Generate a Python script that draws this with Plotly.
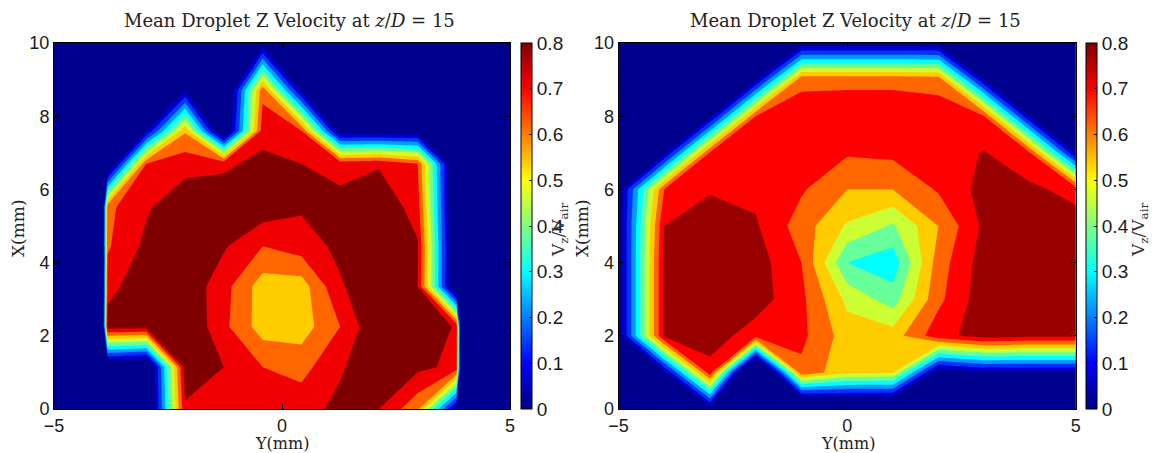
import plotly.graph_objects as go

# ---------------- data ----------------
# Left panel: measurement grid  (Y = columns, X = rows), Vz/Vair values
left_y_mm = [-3.825, -2.975, -2.125, -1.275, -0.425, 0.425, 1.275, 2.125, 2.975, 3.825]
left_x_mm = [0.0, 1.15, 2.25, 3.35, 4.45, 5.5, 6.7, 7.6, 8.7, 9.9]
left_vz = [
    [0.00, -0.13, 0.79, 0.74, 0.73, 0.77, 0.82, 0.80, 0.66, 0.03],
    [-0.08, -0.13, 0.84, 0.80, 0.72, 0.69, 0.79, 0.86, 0.82, 0.78],
    [0.85, 0.84, 0.88, 0.74, 0.60, 0.60, 0.72, 0.88, 0.87, 0.79],
    [0.76, 0.88, 0.86, 0.75, 0.60, 0.60, 0.79, 0.87, 0.80, -0.10],
    [0.71, 0.82, 0.90, 0.81, 0.72, 0.76, 0.82, 0.88, 0.81, -0.10],
    [0.70, 0.79, 0.86, 0.87, 0.85, 0.81, 0.83, 0.87, 0.76, -0.10],
    [-0.10, 0.72, 0.77, 0.78, 0.83, 0.80, 0.77, 0.79, 0.72, -0.10],
    [0.00, 0.07, 0.63, -0.10, 0.76, 0.72, 0.00, 0.00, 0.00, 0.00],
    [0.00, 0.00, 0.07, -0.14, 0.70, 0.06, 0.00, 0.00, 0.00, 0.00],
    [0.00, 0.00, 0.00, 0.00, 0.07, 0.00, 0.00, 0.00, 0.00, 0.00],
]
left_levels = dict(start=0.08, end=0.80, size=0.08)
# jet-fraction used to paint each band (below first level, then above each level)
left_band_frac = [0.0, 0.08, 0.18, 0.28, 0.38, 0.48, 0.58, 0.675, 0.775, 0.89, 1.0]

# Right panel
right_y_mm = [-5, -4, -3, -2, -1, 0, 1, 2, 3, 4, 5]
right_x_mm = [0, 1, 2, 3, 4, 5, 6, 7, 8, 9, 10]
right_vz = [
    [0, 0, 0, 0, -0.26, -0.20, -0.19, 0, 0, 0, 0],
    [0, 0.03, 0.75, -0.40, 0.68, 0.56, 0.55, -0.02, 0.04, 0.04, 0.04],
    [0, 0.80, 0.82, 0.74, 0.72, 0.58, 0.58, 0.75, 0.82, 0.80, 0.80],
    [0, 0.80, 0.85, 0.82, 0.72, 0.52, 0.42, 0.68, 0.83, 0.86, 0.84],
    [0, 0.80, 0.86, 0.82, 0.70, 0.38, 0.33, 0.66, 0.82, 0.87, 0.84],
    [0, 0.78, 0.84, 0.79, 0.66, 0.53, 0.45, 0.62, 0.80, 0.85, 0.82],
    [0, 0.70, 0.77, 0.76, 0.71, 0.62, 0.62, 0.71, 0.81, 0.80, 0.75],
    [0, 0.03, 0.71, 0.74, 0.74, 0.71, 0.72, 0.74, 0.785, 0.70, 0.05],
    [0, 0, 0.03, 0.70, 0.74, 0.75, 0.75, 0.74, 0.70, 0.05, 0],
    [0, 0, 0, 0.04, 0.68, 0.68, 0.68, 0.67, 0.05, 0, 0],
    [0, 0, 0, 0, 0, 0, 0, 0, 0, 0, 0],
]
right_levels = dict(start=0.06, end=0.78, size=0.08)
right_band_frac = [0.0, 0.075, 0.175, 0.275, 0.375, 0.475, 0.575, 0.675, 0.775, 0.875, 0.975]

cbar_ticks = [0, 0.1, 0.2, 0.3, 0.4, 0.5, 0.6, 0.7, 0.8]
cbar_labels = ["0", "0.1", "0.2", "0.3", "0.4", "0.5", "0.6", "0.7", "0.8"]
CMAX = 0.8
title_text = "Mean Droplet Z Velocity at <i>z</i>/<i>D</i> = 15"

# ---------------- helpers ----------------
def jet(f):
    f = min(max(f, 0.0), 1.0)
    r = min(max(1.5 - abs(4 * f - 3), 0), 1)
    g = min(max(1.5 - abs(4 * f - 2), 0), 1)
    b = min(max(1.5 - abs(4 * f - 1), 0), 1)
    if f == 0:
        b = 0.5625
    return "rgb(%d,%d,%d)" % (round(r * 255), round(g * 255), round(b * 255))


def band_scale(fracs):
    n = len(fracs) - 1
    return [[k / n, jet(fr)] for k, fr in enumerate(fracs)]


jet_cont = [[i / 32, jet(i / 32)] for i in range(33)]

# pad left grid with zero border (outside measured region)
lx = left_x_mm + [10.0]
ly = [-5.0, -3.925] + left_y_mm + [3.925, 5.0]
lz = [[0, 0] + row + [0, 0] for row in left_vz] + [[0] * len(ly)]

W, H = 1155, 453
def px(x):
    return x / W
def py(y):
    return 1 - y / H

top, bot = 43, 409
ydom = [py(bot), py(top)]
xdom1 = [px(54), px(510)]
xdom2 = [px(618.6), px(1075.7)]

fig = go.Figure()

fig.add_trace(go.Contour(
    x=ly, y=lx, z=lz, xaxis="x", yaxis="y",
    autocontour=False,
    contours=dict(start=left_levels["start"], end=left_levels["end"],
                  size=left_levels["size"], coloring="fill", showlines=False),
    line=dict(width=0, smoothing=0),
    colorscale=band_scale(left_band_frac), showscale=False, hoverinfo="skip"))

fig.add_trace(go.Contour(
    x=right_y_mm, y=right_x_mm, z=right_vz, xaxis="x2", yaxis="y2",
    autocontour=False,
    contours=dict(start=right_levels["start"], end=right_levels["end"],
                  size=right_levels["size"], coloring="fill", showlines=False),
    line=dict(width=0, smoothing=0),
    colorscale=band_scale(right_band_frac), showscale=False, hoverinfo="skip"))

def cbar(xpos):
    return dict(x=xpos, xanchor="left", xpad=0, ypad=0,
                y=(ydom[0] + ydom[1]) / 2, yanchor="middle",
                len=ydom[1] - ydom[0], lenmode="fraction",
                thickness=11, thicknessmode="pixels",
                outlinecolor="black", outlinewidth=1,
                tickvals=cbar_ticks, ticktext=cbar_labels,
                ticks="inside", ticklen=3, tickcolor="black",
                tickfont=dict(family="Liberation Sans, Arial", size=19, color="#1a1a1a"))

for xa, ya, xpos in (("x", "y", px(520.7)), ("x2", "y2", px(1086))):
    fig.add_trace(go.Scatter(
        x=[-20, -20], y=[-20, -20], xaxis=xa, yaxis=ya, mode="markers",
        marker=dict(color=[0, CMAX], cmin=0, cmax=CMAX, colorscale=jet_cont,
                    opacity=0, showscale=True, colorbar=cbar(xpos)),
        hoverinfo="skip", showlegend=False))

axcommon = dict(showline=True, linecolor="black", linewidth=1, mirror="allticks",
                ticks="inside", ticklen=5, tickcolor="black", showgrid=False,
                zeroline=False,
                tickfont=dict(family="Liberation Sans, Arial", size=18, color="#1a1a1a"))

fig.update_layout(
    width=W, height=H, margin=dict(l=0, r=0, t=0, b=0, autoexpand=False),
    paper_bgcolor="white", plot_bgcolor=jet(0), showlegend=False,
    xaxis=dict(domain=xdom1, range=[-5, 5], tickvals=[-5, 0, 5], anchor="y", **axcommon),
    yaxis=dict(domain=ydom, range=[0, 10], tickvals=[0, 2, 4, 6, 8, 10], anchor="x", **axcommon),
    xaxis2=dict(domain=xdom2, range=[-5, 5], tickvals=[-5, 0, 5], anchor="y2", **axcommon),
    yaxis2=dict(domain=ydom, range=[0, 10], tickvals=[0, 2, 4, 6, 8, 10], anchor="x2", **axcommon),
)

serif = "DejaVu Serif, Liberation Serif, serif"
ann = []
for cx in (289, 855):
    ann.append(dict(x=px(cx), y=py(20), text=title_text, showarrow=False,
                    xref="paper", yref="paper", xanchor="center", yanchor="middle",
                    font=dict(family=serif, size=18, color="#222")))
for cx in (282, 848):
    ann.append(dict(x=px(cx), y=py(443), text="Y(mm)", showarrow=False,
                    xref="paper", yref="paper", xanchor="center", yanchor="middle",
                    font=dict(family=serif, size=16, color="#222")))
for cx in (18, 582):
    ann.append(dict(x=px(cx), y=py(228), text="X(mm)", showarrow=False, textangle=-90,
                    xref="paper", yref="paper", xanchor="center", yanchor="middle",
                    font=dict(family=serif, size=17, color="#222")))
for cx in (559, 1139):
    ann.append(dict(x=px(cx), y=py(230), text="V<sub>z</sub>/V<sub>air</sub>",
                    showarrow=False, textangle=-90,
                    xref="paper", yref="paper", xanchor="center", yanchor="middle",
                    font=dict(family=serif, size=17, color="#333")))
fig.update_layout(annotations=ann)

fig.write_html("out.html", config={"displayModeBar": False},
               post_script="document.body.style.margin='0px';document.body.style.overflow='hidden';")
